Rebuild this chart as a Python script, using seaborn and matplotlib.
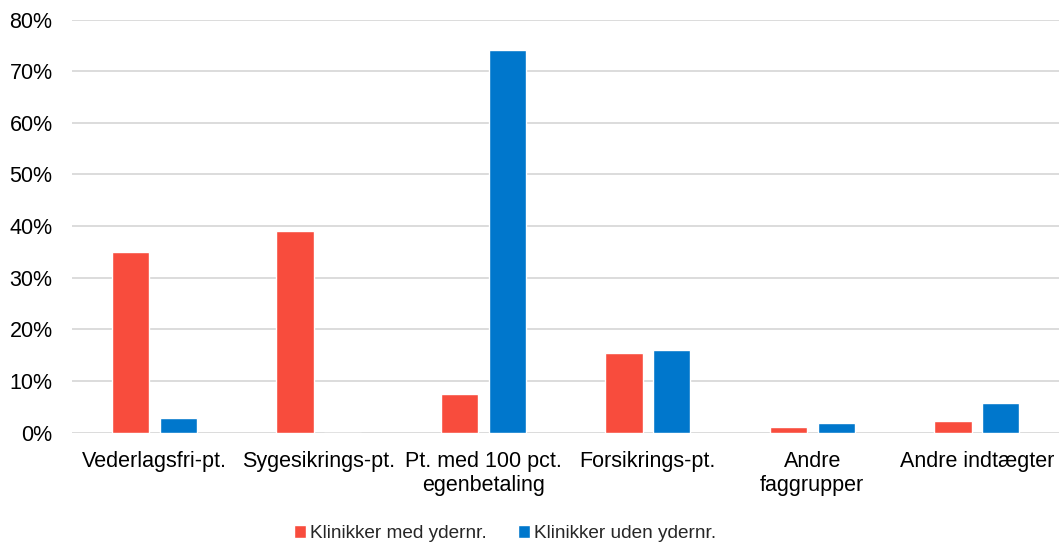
import matplotlib
matplotlib.use("Agg")
import matplotlib.pyplot as plt
import seaborn as sns
import pandas as pd
from matplotlib.ticker import FuncFormatter, MultipleLocator

categories = ["Vederlagsfri-pt.", "Sygesikrings-pt.", "Pt. med 100 pct.\negenbetaling",
              "Forsikrings-pt.", "Andre\nfaggrupper", "Andre indtægter"]
series_names = ["Klinikker med ydernr.", "Klinikker uden ydernr."]
med_ydernr = [34.9, 39.0, 7.4, 15.4, 1.0, 2.2]
uden_ydernr = [2.8, 0.0, 74.0, 15.9, 1.8, 5.7]
colors = ["#F84C3D", "#0077CC"]

df = pd.DataFrame({
    "kategori": categories * 2,
    "serie": [series_names[0]] * len(categories) + [series_names[1]] * len(categories),
    "andel": med_ydernr + uden_ydernr,
})

sns.set_theme(style="white")
plt.rcParams["font.family"] = ["Liberation Sans", "DejaVu Sans"]

fig = plt.figure(figsize=(10.59, 5.42), dpi=100)
ax = fig.add_axes([0.068, 0.202, 0.932, 0.762])

sns.barplot(data=df, x="kategori", y="andel", hue="serie", order=categories,
            hue_order=series_names, palette=colors, width=0.58, gap=0.22,
            saturation=1, ax=ax, legend=True)

ax.set_ylim(0, 80)
ax.set_xlim(-0.5, 5.5)
ax.yaxis.set_major_locator(MultipleLocator(10))
ax.yaxis.set_major_formatter(FuncFormatter(lambda v, p: f"{int(round(v))}%"))
ax.grid(axis="y", color="#D9D9D9", linewidth=1.3)
ax.set_axisbelow(True)
for s in ax.spines.values():
    s.set_visible(False)
ax.set_xlabel("")
ax.set_ylabel("")
ax.tick_params(axis="both", length=0, labelsize=15.5, colors="#000000")
ax.tick_params(axis="x", pad=13)
ax.tick_params(axis="y", pad=14)
for lbl in ax.get_xticklabels():
    lbl.set_linespacing(1.2)

handles, labels = ax.get_legend_handles_labels()
ax.legend(handles, labels, loc="lower center", bbox_to_anchor=(0.4387, -0.307),
          ncol=2, frameon=False, fontsize=13.7, handlelength=0.65, handleheight=0.65,
          handletextpad=0.2, columnspacing=1.65)

fig.savefig("out.png", dpi=100)
